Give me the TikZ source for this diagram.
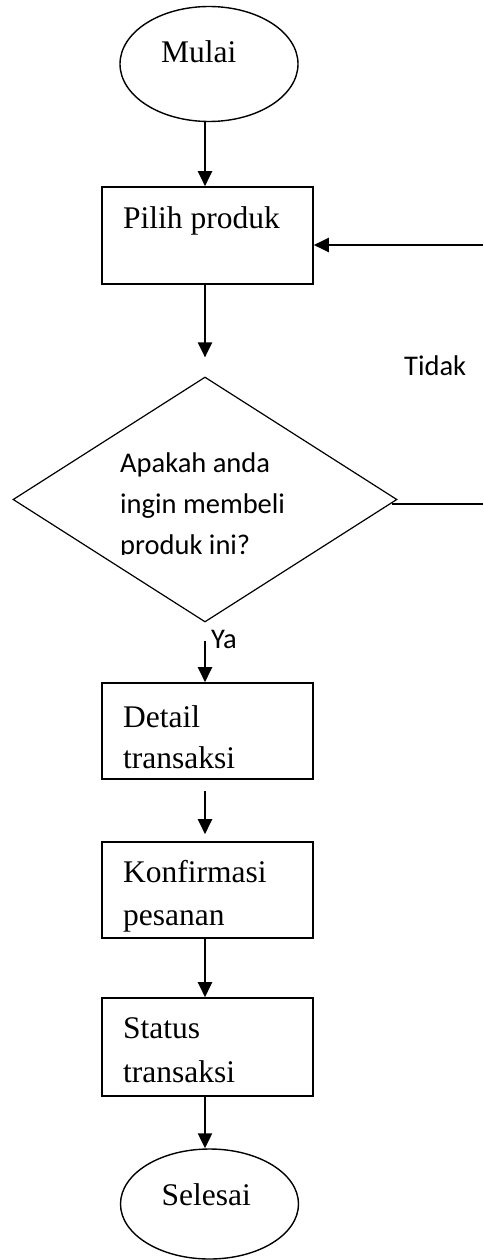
\documentclass[tikz,border=0pt]{standalone}
\usepackage{fontspec}
\setmainfont{Liberation Serif}
\newfontfamily\calfont{Carlito}
\usetikzlibrary{shapes.geometric,arrows.meta}
\begin{document}
\begin{tikzpicture}[x=1pt,y=-1pt,
  terminal/.style={draw, ellipse, line width=1.4pt, minimum width=178pt, minimum height=115pt, inner sep=0pt},
  process/.style={draw, rectangle, line width=1.6pt, minimum width=211pt, minimum height=97pt, inner sep=0pt},
  decision/.style={draw, diamond, line width=1.2pt, minimum width=384pt, minimum height=245pt, inner sep=0pt},
  serif/.style={font=\fontsize{31.5}{38}\selectfont, inner sep=0pt, anchor=base west},
  sans/.style={font=\calfont\fontsize{28.5}{34}\selectfont, inner sep=0pt, anchor=base west},
  arr/.style={line width=2.2pt, -{Triangle[length=15pt,width=14pt]}},
  flow/.style={line width=1.4pt}]
\useasboundingbox (0,0) rectangle (483,1260);

% shapes of the flow
\node[terminal] (mulai) at (209,64) {};
\node[process] (pilih) at (207.5,235.5) {};
\node[decision] (dec) at (205,499.5) {};
\node[process, minimum height=96pt] (detail) at (207.5,731) {};
\node[process, minimum height=96pt] (konf) at (207.5,890) {};
\node[process, minimum height=98pt] (status) at (207.5,1047) {};
\node[terminal, minimum height=110pt] (selesai) at (209.5,1204) {};

% texts
\node[serif] (tMulai) at (161,63) {Mulai};
\node[serif] (tPilih) at (123,228) {Pilih produk};
\begin{scope}
  \clip (100,420) rectangle (330,554);
  \node[sans] (tDec1) at (120,472) {Apakah anda};
  \node[sans] (tDec2) at (120,513) {ingin membeli};
  \node[sans] (tDec3) at (120,554) {produk ini?};
\end{scope}
\node[serif] (tDetail1) at (123,727) {Detail};
\node[serif] (tDetail2) at (123,768) {transaksi};
\node[serif] (tKonf1) at (123,882) {Konfirmasi};
\node[serif] (tKonf2) at (123,925) {pesanan};
\node[serif] (tStatus1) at (123,1038) {Status};
\node[serif] (tStatus2) at (123,1082) {transaksi};
\node[serif] (tSelesai) at (161.5,1205) {Selesai};
\node[sans] (tTidak) at (404,375) {Tidak};
\node[sans] (tYa) at (211,648) {Ya};

% connectors
\coordinate (back) at (483,245);
\coordinate (tidakEnd) at (483,504);
\draw[arr] (mulai.south -| dec.north) -- (pilih.north -| dec.north);
\draw[arr] (pilih.south -| dec.north) -- ([yshift=19pt]dec.north);
\draw[flow] ([xshift=-6pt]dec.east |- tidakEnd) -- (tidakEnd);
\draw[arr] (back) -- (back -| pilih.east);
\draw[arr] ([yshift=-18pt]dec.south) -- (detail.north -| dec.south);
\draw[arr] ([yshift=-11pt]detail.south -| dec.south) -- ([yshift=7pt]konf.north -| dec.south);
\draw[arr] (konf.south -| dec.south) -- (status.north -| dec.south);
\draw[arr] (status.south -| dec.south) -- (selesai.north -| dec.south);
\end{tikzpicture}
\end{document}
